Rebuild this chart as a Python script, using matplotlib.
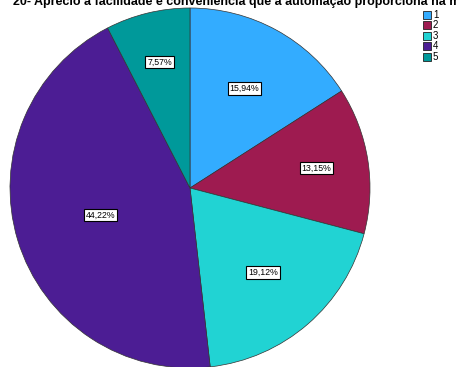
import numpy as np
import matplotlib.pyplot as plt

plt.rcParams['font.family'] = ['Liberation Sans', 'DejaVu Sans']

categorias = ['1', '2', '3', '4', '5']
percentuais = [15.94, 13.15, 19.12, 44.22, 7.57]
cores = ['#33acff', '#9e1b50', '#21d3d3', '#4c1d94', '#00999a']
titulo = '20- Aprecio a facilidade e conveniência que a automação proporciona na minha vida'

# distancia de cada rotulo ao centro (fracao do raio)
dist_rotulo = [0.63, 0.71, 0.62, 0.52, 0.72]

W, H = 457, 367
fig = plt.figure(figsize=(W / 100, H / 100), dpi=100)
cx, cy, R = 190, 188, 180
ax = fig.add_axes([(cx - R) / W, (H - cy - R) / H, 2 * R / W, 2 * R / H])

wedges, _ = ax.pie(percentuais, colors=cores, startangle=90, counterclock=False,
                   radius=1, wedgeprops=dict(edgecolor='#333333', linewidth=0.5))
ax.set_xlim(-1, 1)
ax.set_ylim(-1, 1)
ax.set_aspect('equal')
ax.axis('off')

for w, p, d in zip(wedges, percentuais, dist_rotulo):
    ang = np.deg2rad((w.theta1 + w.theta2) / 2)
    txt = ('%.2f%%' % p).replace('.', ',')
    ax.text(d * np.cos(ang), d * np.sin(ang), txt, ha='center', va='center',
            fontsize=6.3, bbox=dict(boxstyle='square,pad=0.2', fc='white', ec='black', lw=0.8))

fig.text(13 / W, 1 - 5 / H, titulo, ha='left', va='baseline', fontsize=9, fontweight='bold')

# legenda
for i, (c, lab) in enumerate(zip(cores, categorias)):
    y = 11 + i * 10.4
    fig.patches.append(plt.Rectangle((423 / W, 1 - (y + 8) / H), 8 / W, 8 / H,
                                     transform=fig.transFigure, fc=c, ec='#222222', lw=0.6))
    fig.text(433 / W, 1 - (y + 4) / H, lab, ha='left', va='center', fontsize=7)

fig.savefig('out.png', dpi=100)
